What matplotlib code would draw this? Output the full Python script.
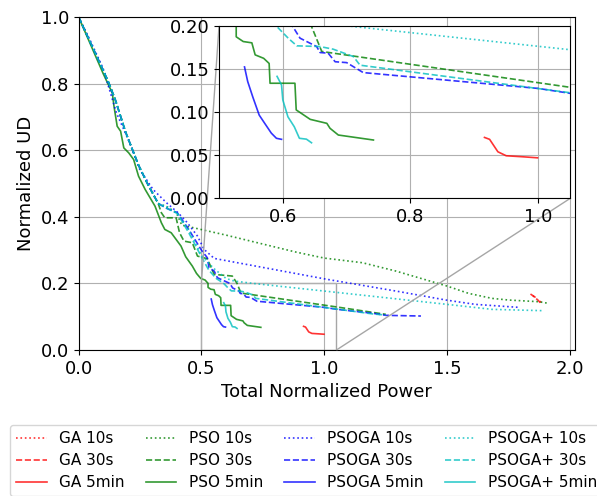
import numpy as np
import matplotlib
matplotlib.use("Agg")
import matplotlib.pyplot as plt
from mpl_toolkits.axes_grid1.inset_locator import mark_inset

# shared upper part of the fronts
top_x = [0.0, 0.05, 0.1, 0.124, 0.15, 0.191, 0.22, 0.244, 0.28, 0.324]
top_y = [1.0, 0.92, 0.84, 0.80, 0.75, 0.655, 0.60, 0.555, 0.50, 0.44]

ga10_x = [1.85, 1.87, 1.885]
ga10_y = [0.163, 0.15, 0.143]
ga30_x = [1.84, 1.86, 1.88]
ga30_y = [0.168, 0.158, 0.142]
ga5_x = [0.916, 0.924, 0.937, 0.950, 0.976, 0.999]
ga5_y = [0.071, 0.0688, 0.0543, 0.0497, 0.0485, 0.0473]

pso10_x = top_x + [0.36, 0.398, 0.42, 0.6, 0.885, 1.0, 1.156, 1.292, 1.5, 1.588, 1.683, 1.751, 1.873, 1.914]
pso10_y = top_y + [0.43, 0.412, 0.375, 0.345, 0.294, 0.276, 0.262, 0.237, 0.192, 0.17, 0.155, 0.15, 0.145, 0.14]
pso30_x = top_x + [0.337, 0.351, 0.397, 0.411, 0.429, 0.463, 0.484, 0.524, 0.552, 0.626, 0.645,
                   0.661, 0.679, 1.05, 1.251]
pso30_y = top_y + [0.412, 0.397, 0.397, 0.352, 0.327, 0.322, 0.282, 0.274, 0.227, 0.222, 0.2,
                   0.171, 0.169, 0.1293, 0.107]
pso5_x = [0.0, 0.05, 0.1, 0.137, 0.144, 0.157, 0.171, 0.184, 0.204, 0.224, 0.244, 0.271, 0.311,
          0.337, 0.351, 0.377, 0.402, 0.417, 0.436, 0.463, 0.48, 0.497, 0.515, 0.527, 0.527,
          0.538, 0.5515, 0.5567, 0.570, 0.5786, 0.580, 0.619, 0.621, 0.643, 0.669, 0.674, 0.687, 0.742]
pso5_y = [1.0, 0.915, 0.83, 0.772, 0.732, 0.672, 0.657, 0.607, 0.592, 0.572, 0.522, 0.482, 0.432,
          0.382, 0.362, 0.352, 0.327, 0.312, 0.28, 0.252, 0.23, 0.215, 0.21, 0.2, 0.188,
          0.1825, 0.181, 0.167, 0.163, 0.157, 0.134, 0.134, 0.103, 0.092, 0.0874, 0.0816, 0.0738, 0.068]

psoga10_x = [0.0, 0.05, 0.1, 0.154, 0.208, 0.249, 0.303, 0.358, 0.405, 0.443, 0.484, 0.511, 0.552,
             1.013, 1.292, 1.496, 1.615, 1.792]
psoga10_y = [1.0, 0.925, 0.845, 0.712, 0.622, 0.542, 0.482, 0.442, 0.412, 0.382, 0.342, 0.302, 0.275,
             0.212, 0.177, 0.15, 0.137, 0.128]
psoga30_x = top_x + [0.36, 0.402, 0.45, 0.5, 0.524, 0.531, 0.552, 0.565, 0.6156, 0.627, 0.653, 0.6584,
                     0.671, 0.682, 0.7, 0.726, 1.0, 1.05, 1.2, 1.251, 1.394]
psoga30_y = top_y + [0.425, 0.412, 0.36, 0.30, 0.277, 0.247, 0.237, 0.217, 0.2, 0.1864, 0.1767, 0.1697,
                     0.169, 0.159, 0.158, 0.1464, 0.128, 0.1223, 0.11, 0.104, 0.102]
psoga5_x = [0.540, 0.545, 0.553, 0.563, 0.572, 0.582, 0.59, 0.598]
psoga5_y = [0.153, 0.136, 0.118, 0.097, 0.087, 0.076, 0.070, 0.0688]

psogap10_x = top_x + [0.36, 0.402, 0.45, 0.5, 0.55, 0.6, 0.633, 0.71, 1.05, 1.5, 1.683, 1.893]
psogap10_y = top_y + [0.43, 0.41, 0.36, 0.285, 0.245, 0.215, 0.207, 0.2, 0.173, 0.137, 0.122, 0.118]
psogap30_x = top_x + [0.36, 0.402, 0.45, 0.5, 0.53, 0.56, 0.5906, 0.609, 0.622, 0.658, 0.679, 0.7106,
                      0.721, 1.05, 1.2, 1.25]
psogap30_y = top_y + [0.425, 0.41, 0.35, 0.28, 0.24, 0.215, 0.2, 0.186, 0.1775, 0.1767, 0.1736, 0.165,
                      0.155, 0.123, 0.108, 0.105]
psogap5_x = [0.591, 0.598, 0.600, 0.608, 0.618, 0.626, 0.637, 0.645]
psogap5_y = [0.142, 0.132, 0.1146, 0.095, 0.0834, 0.070, 0.069, 0.0648]

series = [
    ("GA 10s", ga10_x, ga10_y, "r", ":"),
    ("GA 30s", ga30_x, ga30_y, "r", "--"),
    ("GA 5min", ga5_x, ga5_y, "r", "-"),
    ("PSO 10s", pso10_x, pso10_y, "g", ":"),
    ("PSO 30s", pso30_x, pso30_y, "g", "--"),
    ("PSO 5min", pso5_x, pso5_y, "g", "-"),
    ("PSOGA 10s", psoga10_x, psoga10_y, "b", ":"),
    ("PSOGA 30s", psoga30_x, psoga30_y, "b", "--"),
    ("PSOGA 5min", psoga5_x, psoga5_y, "b", "-"),
    ("PSOGA+ 10s", psogap10_x, psogap10_y, "c", ":"),
    ("PSOGA+ 30s", psogap30_x, psogap30_y, "c", "--"),
    ("PSOGA+ 5min", psogap5_x, psogap5_y, "c", "-"),
]

fig = plt.figure(figsize=(5.97, 4.96), dpi=100)
ax = fig.add_axes([0.1317, 0.2944, 0.8309, 0.6713])
axins = fig.add_axes([0.3668, 0.5998, 0.588, 0.3468])

for name, x, y, c, ls in series:
    ax.plot(x, y, color=c, linestyle=ls, alpha=0.8, lw=1.2, label=name)
    axins.plot(x, y, color=c, linestyle=ls, alpha=0.8, lw=1.2)

ax.set_xlim(0, 2.02)
ax.set_ylim(0, 1.0)
ax.set_xticks([0.0, 0.5, 1.0, 1.5, 2.0])
ax.set_xlabel("Total Normalized Power", fontsize=13)
ax.set_ylabel("Normalized UD", fontsize=13)
ax.tick_params(labelsize=13)
ax.grid(True, color="#b0b0b0", lw=0.8)

axins.set_xlim(0.5, 1.05)
axins.set_ylim(0, 0.2)
axins.set_xticks([0.6, 0.8, 1.0])
axins.set_yticks([0.0, 0.05, 0.1, 0.15, 0.2])
axins.tick_params(labelsize=13)
axins.grid(True, color="#b0b0b0", lw=0.8)
mark_inset(ax, axins, loc1=2, loc2=4, fc="none", ec="0.65", lw=1)

ax.legend(ncol=4, fontsize=11, loc="upper left", bbox_to_anchor=(10 / 597, 1 - 425 / 496),
          bbox_transform=fig.transFigure, borderaxespad=0, columnspacing=1.4,
          labelspacing=0.45)

fig.savefig("out.png", dpi=100)
